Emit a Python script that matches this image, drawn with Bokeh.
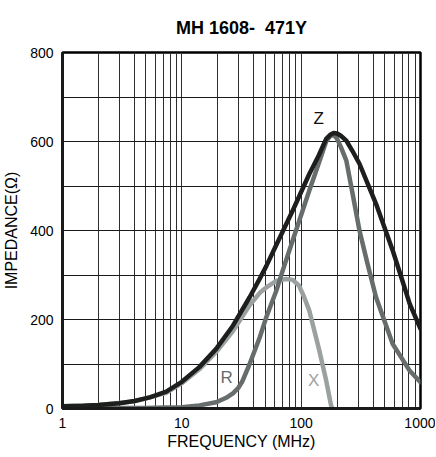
from bokeh.plotting import figure
from bokeh.models import FixedTicker, Label, PrintfTickFormatter
from bokeh.embed import file_html
from bokeh.resources import INLINE

# ---- data ----
z_freq = [1, 1.5, 2, 3, 4, 5.4, 7.4, 10, 14, 19.4, 26.8, 37, 45, 51, 62, 85, 117, 140, 162, 175,
          187, 200, 215, 239, 270, 308, 360, 424, 500, 585, 700, 812, 1000]
z_val = [5, 6, 8, 12, 17, 25, 38, 60, 93, 134, 186, 250, 292, 320, 368, 445, 527, 568, 606, 615,
         619, 618, 613, 602, 578, 550, 506, 460, 406, 355, 290, 235, 179]

r_freq = [1, 3, 5, 7.4, 10, 14, 19.4, 23.5, 26.8, 29.5, 32, 37, 45, 51, 62, 70, 85, 117, 140, 162,
          175, 187, 200, 215, 239, 270, 308, 360, 424, 500, 585, 700, 812, 1000]
r_val = [1, 1, 1, 2, 3, 7, 14, 24, 34, 45, 60, 100, 160, 205, 265, 310, 378, 490, 550, 600,
         612, 615, 606, 588, 557, 482, 400, 325, 250, 196, 145, 112, 85, 59]

x_freq = [1, 2, 4, 7.4, 10, 14, 19.4, 26.8, 37, 45, 51, 62, 75, 85, 96, 106, 117, 142, 162, 178, 182]
x_val = [5, 8, 16, 35, 57, 88, 127, 174, 232, 260, 272, 287, 291, 289, 276, 250, 220, 130, 63, 7, 0]

x_ticks = [1, 10, 100, 1000]
x_tick_labels = ["1", "10", "100", "1000"]
y_ticks = [0, 200, 400, 600, 800]
y_tick_labels = ["0", "200", "400", "600", "800"]
x_grid = [k * 10 ** d for d in range(3) for k in range(1, 10)] + [1000]
y_grid = [100, 200, 300, 400, 500, 600, 700]

title = "MH 1608-\u00a0\u00a0471Y"
x_label = "FREQUENCY (MHz)"
y_label = "IMPEDANCE(\u03a9)"

FONT = "Liberation Sans"

p = figure(frame_width=358, frame_height=356, x_axis_type="log", x_range=(1, 1000), y_range=(0, 800),
           output_backend="svg", toolbar_location=None,
           min_border_left=55, min_border_right=15, min_border_top=0, min_border_bottom=0)

p.title.text = title
p.title.align = "center"
p.title.text_font = FONT
p.title.text_font_size = "18px"
p.title.text_font_style = "bold"
p.title.text_color = "black"
p.title.standoff = 30

p.outline_line_color = "black"
p.outline_line_width = 2.5
p.outline_line_alpha = 1

# grids
p.xgrid.ticker = FixedTicker(ticks=x_grid)
p.xgrid.grid_line_color = "#2e2e2e"
p.xgrid.grid_line_width = 1
p.ygrid.ticker = FixedTicker(ticks=y_grid)
p.ygrid.grid_line_color = "#1a1a1a"
p.ygrid.grid_line_width = 1

# axes
for ax in (p.xaxis[0], p.yaxis[0]):
    ax.axis_line_width = 3
    ax.axis_line_color = "#1a1a1a"
    ax.major_tick_line_color = None
    ax.minor_tick_line_color = None
    ax.major_label_text_font = FONT
    ax.major_label_text_font_size = "14px"
    ax.major_label_text_color = "black"
    ax.axis_label_text_font = FONT
    ax.axis_label_text_font_size = "16px"
    ax.axis_label_text_font_style = "normal"
    ax.axis_label_text_color = "black"

p.xaxis.ticker = FixedTicker(ticks=x_ticks)
p.xaxis.formatter = PrintfTickFormatter(format="%d")
p.xaxis.major_label_overrides = {t: l for t, l in zip(x_ticks, x_tick_labels)}
p.xaxis.major_label_standoff = 3
p.xaxis.axis_label = x_label
p.xaxis.axis_label_standoff = 2

p.yaxis.ticker = FixedTicker(ticks=y_ticks)
p.yaxis.major_label_overrides = {t: l for t, l in zip(y_ticks, y_tick_labels)}
p.yaxis.major_label_standoff = 3
p.yaxis.axis_label = y_label
p.yaxis.axis_label_standoff = 7

# curves
p.line(x_freq, x_val, line_width=4.5, color="#9ba1a1", line_join="round", line_cap="round")
p.line(r_freq, r_val, line_width=4.5, color="#676c6c", line_join="round", line_cap="round")
p.line(z_freq, z_val, line_width=4.5, color="#1c1f1c", line_join="round", line_cap="round")

# curve labels
for txt, fx, fy, col in (("Z", 140, 652, "#111111"), ("R", 23.7, 70, "#676c6c"), ("X", 127, 63, "#9ba1a1")):
    p.add_layout(Label(x=fx, y=fy, text=txt, text_align="center", text_baseline="middle",
                       text_font=FONT, text_font_size="17px", text_color=col))

open("out.html", "w").write(file_html(p, INLINE))
